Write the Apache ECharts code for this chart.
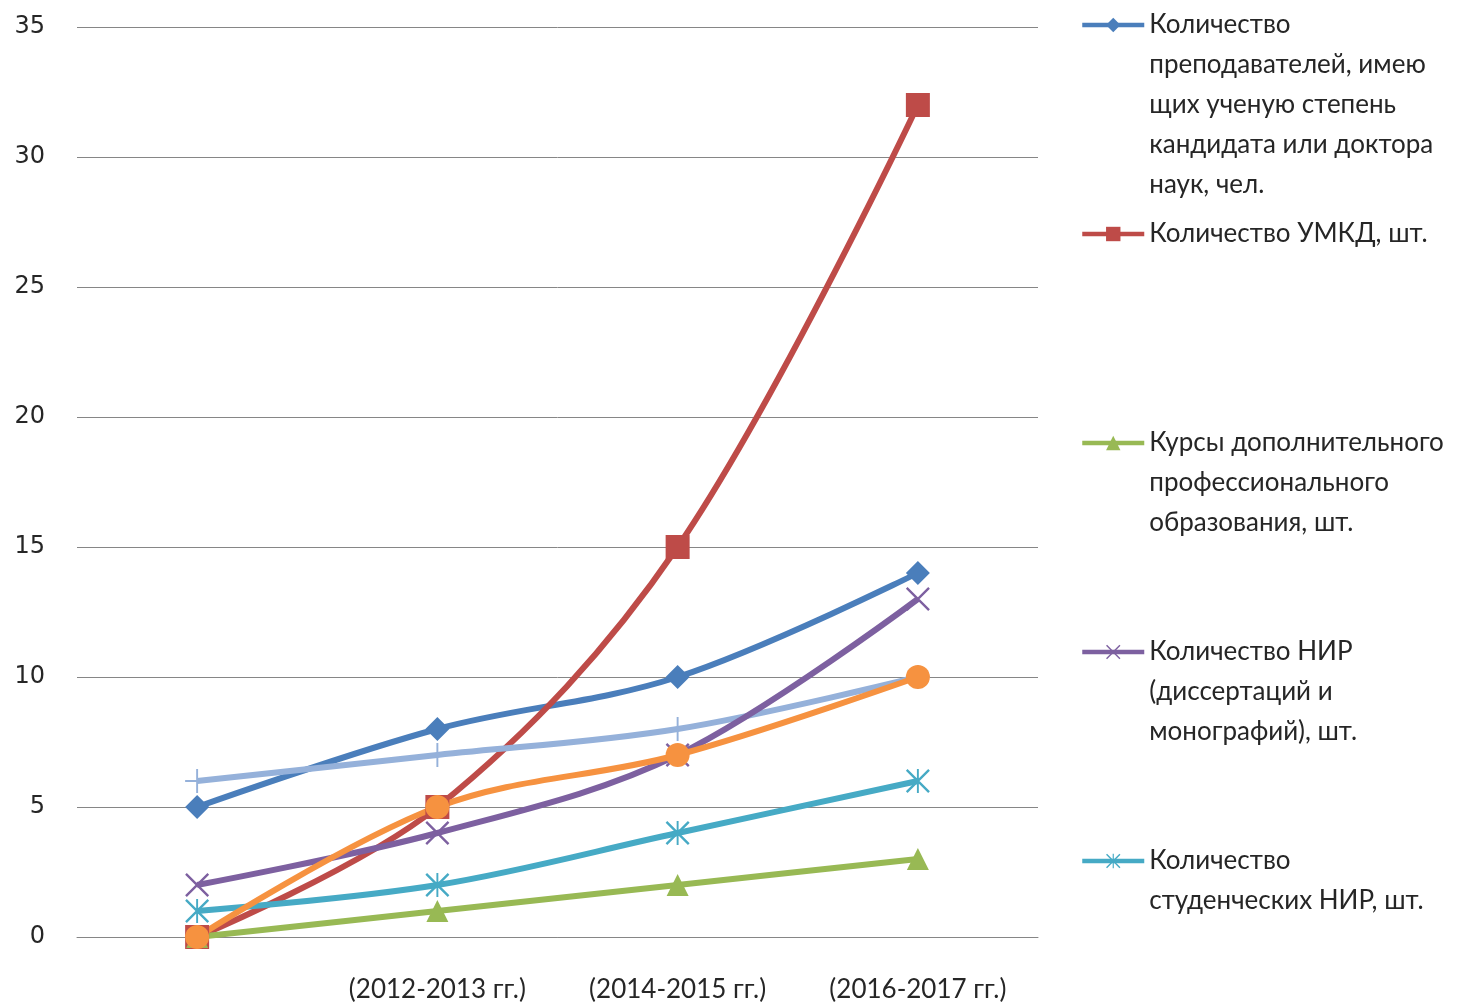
<!DOCTYPE html>
<html><head><meta charset="utf-8">
<script src="https://cdn.jsdelivr.net/npm/echarts@6/dist/echarts.min.js"></script>
<style>html,body{margin:0;padding:0;background:#fff}#c{width:1477px;height:1005px}</style>
</head><body><div id="c"></div>
<script>
const categories = ['', '(2012-2013 гг.)', '(2014-2015 гг.)', '(2016-2017 гг.)'];
const yTicks = [0, 5, 10, 15, 20, 25, 30, 35];
const teachers = [5, 8, 10, 14];
const umkd = [0, 5, 15, 32];
const extraLightBlue = [6, 7, 8, 10];
const courses = [0, 1, 2, 3];
const nir = [2, 4, 7, 13];
const studentNir = [1, 2, 4, 6];
const extraOrange = [0, 5, 7, 10];

const names = {
  teachers: 'Количество\nпреподавателей, имею\nщих ученую степень\nкандидата или доктора\nнаук, чел.',
  umkd: 'Количество УМКД, шт.',
  lightBlue: 'Ряд 3',
  courses: 'Курсы дополнительного\nпрофессионального\nобразования, шт.',
  nir: 'Количество НИР\n(диссертаций и\nмонографий), шт.',
  studentNir: 'Количество\nстуденческих НИР, шт.',
  orange: 'Ряд 7'
};

const pathX = 'path://M-10,-8.6 L-8.6,-10 L10,8.6 L8.6,10 Z M-10,8.6 L8.6,-10 L10,-8.6 L-8.6,10 Z';
const pathPlus = 'path://M-0.8,-10 L0.8,-10 L0.8,-0.8 L10,-0.8 L10,0.8 L0.8,0.8 L0.8,10 L-0.8,10 L-0.8,0.8 L-10,0.8 L-10,-0.8 L-0.8,-0.8 Z';
const pathStar = 'path://M-0.8,-10 L0.8,-10 L0.8,10 L-0.8,10 Z M-10,-8.6 L-8.6,-10 L10,8.6 L8.6,10 Z M-10,8.6 L8.6,-10 L10,-8.6 L-8.6,10 Z';

const LW = 6;
function mk(name, data, color, symbol, size, extra) {
  return Object.assign({
    name, type: 'line', data, smooth: 0.35, symbol, symbolSize: size,
    showAllSymbol: true,
    lineStyle: { color, width: LW },
    itemStyle: { color },
    emphasis: { disabled: true },
    animation: false
  }, extra || {});
}

const series = [
  mk(names.teachers, teachers, '#4A7EBB', 'diamond', 24),
  mk(names.umkd, umkd, '#BE4B48', 'rect', 24),
  mk(names.lightBlue, extraLightBlue, '#95B1DA', pathPlus, 24),
  mk(names.courses, courses, '#98B954', 'triangle', 22),
  mk(names.nir, nir, '#7D60A0', pathX, 24),
  mk(names.studentNir, studentNir, '#46AAC5', pathStar, 24),
  mk(names.orange, extraOrange, '#F69240', 'circle', 24)
];

const LH = 40;
function legendFor(name, firstLineY) {
  const n = name.split('\n').length;
  return {
    data: [name], left: 1080, top: firstLineY - (2 * n - 1) * LH / 2,
    orient: 'vertical', padding: 0, itemWidth: 62, itemHeight: 18,
    selectedMode: false,
    formatter: function (s) { return '\n'.repeat(n - 1) + s; },
    lineStyle: { width: 4.5 },
    textStyle: { fontFamily: 'Lato', fontSize: 26, color: '#262626', lineHeight: LH }
  };
}

const chart = echarts.init(document.getElementById('c'));
chart.setOption({
  backgroundColor: '#fff',
  animation: false,
  grid: { left: 77, right: 439, top: 27, bottom: 68, containLabel: false },
  legend: [
    legendFor(names.teachers, 25),
    legendFor(names.umkd, 234),
    legendFor(names.courses, 443),
    legendFor(names.nir, 652),
    legendFor(names.studentNir, 861)
  ],
  xAxis: {
    type: 'category', data: categories, boundaryGap: true,
    axisLine: { lineStyle: { color: '#868686', width: 1 } },
    axisTick: { show: false },
    axisLabel: { interval: 0, margin: 40, fontFamily: 'Lato', fontSize: 26, color: '#262626' }
  },
  yAxis: {
    type: 'value', min: yTicks[0], max: yTicks[yTicks.length - 1], interval: 5,
    axisLine: { show: false }, axisTick: { show: false },
    splitLine: { lineStyle: { color: '#868686', width: 1 } },
    axisLabel: { margin: 32, fontFamily: 'DejaVu Sans', fontSize: 24, color: '#262626' }
  },
  series
});
</script></body></html>
